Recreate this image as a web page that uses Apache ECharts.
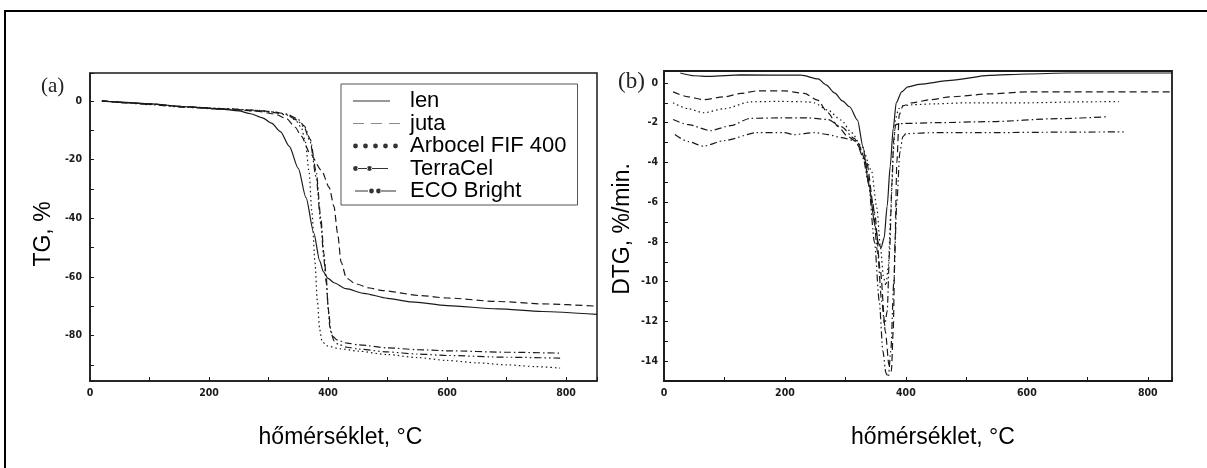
<!DOCTYPE html>
<html><head><meta charset="utf-8">
<script src="https://cdn.jsdelivr.net/npm/echarts@6/dist/echarts.min.js"></script>
<style>html,body{margin:0;padding:0;background:#fff;overflow:hidden}#c{width:1207px;height:468px}</style>
</head><body><div id="c"></div>
<script>
// ---- names ----
const seriesNames = ['len', 'juta', 'Arbocel FIF 400', 'TerraCel', 'ECO Bright'];
const xTitle = 'hőmérséklet, °C';
const yTitleTG = 'TG, %';
const yTitleDTG = 'DTG, %/min.';

// ---- TG (a) ----
const tgLenT = [20, 60, 100, 160, 220, 250, 270, 290, 305, 320, 335, 350, 363, 376, 386, 392, 400, 410, 430, 460, 500, 540, 600, 685, 760, 852];
const tgLenV = [0, -0.5, -1.0, -2.0, -2.8, -3.4, -4.4, -5.8, -7.6, -10.5, -15.5, -23, -33, -45, -54.5, -58.2, -60.5, -62, -64, -65.6, -67.3, -68.5, -69.8, -70.9, -71.8, -72.8];
const tgJutaT = [20, 60, 100, 160, 220, 280, 310, 330, 345, 355, 370, 389, 402, 410, 416, 422, 431, 447, 470, 492, 556, 600, 685, 760, 852];
const tgJutaV = [0, -0.6, -1.1, -2.0, -2.7, -3.5, -4.5, -6, -9, -12, -18, -23.7, -29.5, -36, -45, -55, -60.5, -62.4, -63.8, -64.7, -66.4, -67.2, -68.4, -69.2, -70];
const tgArbT = [20, 60, 100, 160, 220, 280, 310, 330, 345, 355, 362, 368, 373, 378, 382, 386, 390, 398, 420, 450, 500, 550, 600, 650, 700, 750, 790];
const tgArbV = [0, -0.6, -1.1, -2.0, -2.6, -3.2, -3.8, -4.5, -6.5, -9, -14, -24, -38, -55, -68, -78, -82, -83.5, -84.5, -85.3, -86.5, -87.5, -88.5, -89.3, -90, -90.6, -91.1];
const tgTerT = [20, 60, 100, 160, 220, 280, 310, 330, 348, 360, 370, 380, 388, 393, 397, 400, 403, 408, 415, 432, 452, 500, 550, 600, 700, 790];
const tgTerV = [0, -0.6, -1.1, -2.0, -2.6, -3.2, -3.8, -4.5, -6, -8.5, -13, -24, -40, -52, -60, -70, -77, -80.3, -81.5, -82.6, -83.2, -84.2, -84.8, -85.2, -85.7, -86];
const tgEcoT = [20, 60, 100, 160, 220, 280, 310, 330, 348, 360, 370, 380, 388, 393, 397, 401, 405, 410, 417, 432, 452, 500, 550, 600, 700, 790];
const tgEcoV = [0, -0.7, -1.3, -2.2, -2.8, -3.4, -4, -4.8, -6.5, -9, -14, -26, -42, -54, -62, -72, -79, -81.8, -83, -84, -84.6, -85.6, -86.3, -86.8, -87.4, -87.7];

// ---- DTG (b) ----
const dtgLenT = [27, 50, 75, 127, 227, 255, 268, 282, 295, 307, 320, 329, 339, 349, 355, 359, 364, 369, 374, 379, 384, 393, 403, 422, 474, 538, 600, 668, 750, 840];
const dtgLenV = [0.5, 0.36, 0.33, 0.4, 0.39, 0.2, -0.1, -0.5, -0.9, -1.2, -1.87, -3.2, -5.2, -7.2, -8.1, -8.3, -7.8, -6.2, -4.2, -2.3, -1.0, -0.45, -0.2, -0.07, 0.13, 0.38, 0.45, 0.5, 0.5, 0.5];
const dtgJutaT = [15, 40, 65, 100, 127, 154, 199, 232, 254, 271, 288, 304, 320, 335, 348, 358, 366, 372, 376, 379, 382, 385, 389, 395, 410, 440, 473, 540, 603, 700, 840];
const dtgJutaV = [-0.45, -0.7, -0.84, -0.7, -0.53, -0.4, -0.4, -0.53, -0.87, -1.5, -2.2, -2.7, -3.0, -4.0, -6.5, -9.5, -12.5, -14.2, -14.5, -12.5, -8, -4, -1.6, -1.15, -1.0, -0.85, -0.7, -0.55, -0.45, -0.45, -0.45];
const dtgArbT = [15, 40, 65, 100, 143, 190, 238, 248, 271, 293, 310, 327, 343, 352, 358, 363, 367, 371, 375, 379, 383, 388, 395, 410, 450, 500, 600, 700, 752];
const dtgArbV = [-1.0, -1.3, -1.5, -1.3, -0.95, -0.93, -0.95, -1.0, -1.37, -1.87, -2.5, -3.2, -4.4, -6.3, -8.3, -9.8, -10.2, -9.2, -6.5, -3.5, -1.8, -1.3, -1.15, -1.1, -1.05, -1.0, -1.0, -0.95, -0.94];
const dtgTerT = [15, 40, 77, 110, 143, 190, 238, 271, 293, 315, 332, 345, 353, 360, 365, 369, 373, 377, 380, 383, 390, 397, 450, 538, 650, 735];
const dtgTerV = [-1.84, -2.1, -2.4, -2.15, -1.78, -1.76, -1.76, -1.84, -2.2, -2.8, -3.9, -6.0, -8.5, -11, -12.2, -11.5, -8.5, -5, -2.8, -2.1, -2.05, -2.04, -2.0, -1.95, -1.8, -1.7];
const dtgEcoT = [18, 40, 65, 100, 154, 199, 215, 249, 271, 293, 315, 327, 338, 348, 356, 362, 367, 371, 375, 380, 385, 390, 395, 400, 450, 550, 650, 764];
const dtgEcoV = [-2.6, -2.95, -3.18, -2.9, -2.5, -2.5, -2.6, -2.5, -2.6, -2.75, -2.9, -3.4, -5, -8, -11, -13.5, -14.6, -14.8, -13.5, -10, -6, -3.5, -2.7, -2.55, -2.5, -2.5, -2.48, -2.46];

const zip = (t, v) => t.map((x, i) => [x, v[i]]);
const tgData = [zip(tgLenT, tgLenV), zip(tgJutaT, tgJutaV), zip(tgArbT, tgArbV), zip(tgTerT, tgTerV), zip(tgEcoT, tgEcoV)];
const dtgData = [zip(dtgLenT, dtgLenV), zip(dtgJutaT, dtgJutaV), zip(dtgArbT, dtgArbV), zip(dtgTerT, dtgTerV), zip(dtgEcoT, dtgEcoV)];

const dashTypes = ['solid', [7, 4], [1.5, 3], [7, 3, 1.5, 3], [7, 3, 1.5, 3, 1.5, 3]];
const INK = '#1a1a1a';
const tickFont = 'Liberation Sans Narrow, DejaVu Sans Condensed, sans-serif';

// legend icon paths (57 x 12 box)
const corners = 'M0 0h0.01v0.01h-0.01Z M56.99 11.99h0.01v0.01h-0.01Z ';
const bar = (a, b) => `M${a} 5.4H${b}V6.6H${a}Z `;
const dot = (cx, r) => `M${cx - r} 6a${r} ${r} 0 1 0 ${2 * r} 0a${r} ${r} 0 1 0 ${-2 * r} 0Z `;
const icons = [
  corners + bar(5, 42),
  corners + bar(5, 16) + bar(23, 34) + bar(41, 52),
  corners + dot(7.5, 2.4) + dot(17.5, 2.4) + dot(27.5, 2.4) + dot(37.5, 2.4) + dot(47.5, 2.4),
  corners + dot(7.5, 2.4) + bar(9, 20) + dot(21.5, 2.4) + bar(23, 40),
  corners + bar(7, 20) + dot(23.5, 2.4) + dot(30.5, 2.4) + bar(32, 48)
];

function xAx(grid, max, offsetPad) {
  return {
    gridIndex: grid, type: 'value', min: 0, max: max, interval: 100,
    axisLine: { onZero: false, lineStyle: { color: INK, width: 1.5 } },
    axisTick: { inside: true, length: 4, lineStyle: { color: INK, width: 1 } },
    axisLabel: { formatter: v => (v % 200 === 0 ? String(v) : ''), fontSize: 10.5, fontWeight: 'bold', color: INK, fontFamily: tickFont, margin: 7 },
    splitLine: { show: false },
    name: xTitle, nameLocation: 'middle', nameGap: 45,
    nameTextStyle: { fontSize: 23, fontFamily: 'Liberation Sans, Arial, sans-serif', color: '#000', padding: offsetPad }
  };
}
function yAx(grid, min, max, split, step, name, gap, margin, namePad) {
  return {
    gridIndex: grid, type: 'value', min: min, max: max, splitNumber: split,
    axisLine: { show: true, onZero: false, lineStyle: { color: INK, width: 1.5 } },
    axisTick: { show: true, inside: true, length: 4, lineStyle: { color: INK, width: 1 } },
    axisLabel: { formatter: v => (Math.abs(v % step) < 1e-9 ? String(v) : ''), fontSize: 10.5, fontWeight: 'bold', color: INK, fontFamily: tickFont, margin: margin },
    splitLine: { show: false },
    name: name, nameLocation: 'middle', nameRotate: 90, nameGap: gap,
    nameTextStyle: { fontSize: 23, fontFamily: 'Liberation Sans, Arial, sans-serif', color: '#000', padding: namePad }
  };
}

const series = [];
seriesNames.forEach((n, i) => {
  [[tgData, 0], [dtgData, 1]].forEach(([src, g]) => {
    series.push({
      name: n, type: 'line', xAxisIndex: g, yAxisIndex: g, data: src[i],
      showSymbol: false, symbol: 'none', smooth: 0.25, smoothMonotone: 'x',
      color: INK,
      lineStyle: { color: INK, width: 1.2, type: dashTypes[i] },
      emphasis: { disabled: true }, silent: true, z: 3
    });
  });
});

const chart = echarts.init(document.getElementById('c'), null, { renderer: 'canvas' });
chart.setOption({
  animation: false,
  backgroundColor: '#ffffff',
  title: [
    { text: '(a)', left: 41, top: 76, textStyle: { fontSize: 21, fontWeight: 'normal', fontFamily: 'Liberation Serif, serif', color: '#222' }, padding: 0 },
    { text: '(b)', left: 618, top: 70, textStyle: { fontSize: 23, fontWeight: 'normal', fontFamily: 'Liberation Serif, serif', color: '#222' }, padding: 0 }
  ],
  graphic: [
    { type: 'line', z: -1, silent: true, shape: { x1: 5, y1: 10, x2: 5, y2: 470 }, style: { stroke: '#000', lineWidth: 2 } },
    { type: 'line', z: -1, silent: true, shape: { x1: 4, y1: 11, x2: 1207, y2: 11 }, style: { stroke: '#000', lineWidth: 2 } }
  ],
  grid: [
    { left: 90, top: 73, width: 507, height: 308, show: true, borderColor: INK, borderWidth: 1.5, backgroundColor: 'transparent' },
    { left: 664, top: 71, width: 508, height: 310, show: true, borderColor: INK, borderWidth: 1.8, backgroundColor: 'transparent' }
  ],
  xAxis: [xAx(0, 852, [0, 6, 0, 0]), xAx(1, 840, [0, 0, 0, 30])],
  yAxis: [
    yAx(0, -95.5, 9.5, 10, 20, yTitleTG, 35, 8, [0, 14, 0, 0]),
    yAx(1, -15, 0.6, 15, 2, yTitleDTG, 30, 6, [0, 6, 0, 0])
  ],
  legend: {
    orient: 'vertical', left: 341, top: 84, align: 'left',
    padding: [6, 11, 3, 7], itemGap: 0.5, itemWidth: 57, itemHeight: 12,
    backgroundColor: '#fff', borderColor: '#555', borderWidth: 1,
    itemStyle: { borderWidth: 0 },
    textStyle: { fontSize: 22, lineHeight: 21, fontFamily: 'Liberation Sans, Arial, sans-serif', color: '#000' },
    selectedMode: false,
    data: seriesNames.map((n, i) => ({ name: n, icon: 'path://' + icons[i], itemStyle: { color: i === 1 ? '#8a8a8a' : '#333', borderWidth: 0 } }))
  },
  series: series
});
</script>
</body></html>
